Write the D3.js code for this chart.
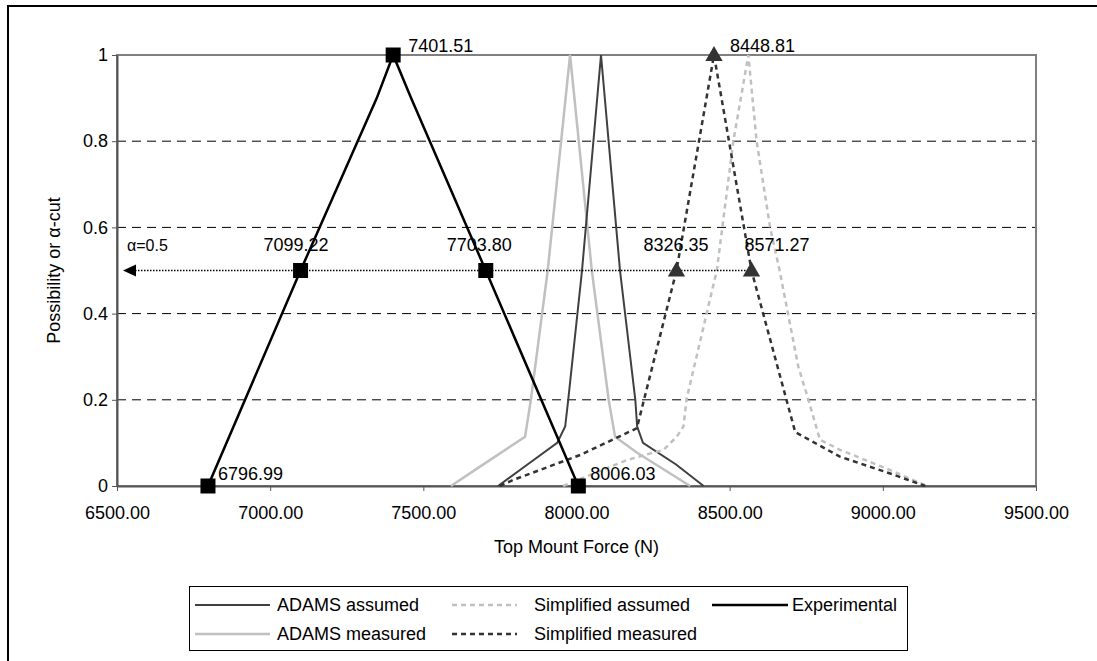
<!DOCTYPE html>
<html>
<head>
<meta charset="utf-8">
<script src="https://cdn.jsdelivr.net/npm/d3@7/dist/d3.min.js"></script>
<style>
  body { margin: 0; background: #fff; }
  svg text { font-family: "Liberation Sans", Arial, sans-serif; fill: #000; }
</style>
</head>
<body>
<svg id="chart" width="1097" height="661"></svg>
<script>
// tick values
var xTicks = [6500, 7000, 7500, 8000, 8500, 9000, 9500];
var yTicks = [0, 0.2, 0.4, 0.6, 0.8, 1];

// ADAMS assumed (force, possibility)
var adamsAssumedX = [7744, 7840, 7937, 7963, 7973, 8018, 8080, 8142, 8192, 8198, 8217, 8325, 8415];
var adamsAssumedA = [0, 0.05, 0.1, 0.138, 0.2, 0.5, 1, 0.5, 0.2, 0.138, 0.1, 0.05, 0];

// ADAMS measured
var adamsMeasuredX = [7590, 7685, 7832, 7851, 7906, 7979, 8050, 8105, 8126, 8198, 8371];
var adamsMeasuredA = [0, 0.045, 0.114, 0.2, 0.5, 1, 0.5, 0.2, 0.114, 0.077, 0];

// Simplified assumed
var simpAssumedX = [7956, 8164, 8284, 8327, 8349, 8360, 8458, 8512, 8561, 8588, 8632, 8663, 8724, 8757, 8795, 8860, 9024, 9143];
var simpAssumedA = [0, 0.06, 0.084, 0.114, 0.138, 0.204, 0.5, 0.8, 1, 0.8, 0.6, 0.5, 0.277, 0.2, 0.107, 0.084, 0.037, 0];

// Simplified measured
var simpMeasuredX = [7750, 7793, 8012, 8197, 8326.35, 8448.81, 8571.27, 8714, 8860, 9024, 9138];
var simpMeasuredA = [0, 0.014, 0.072, 0.134, 0.5, 1, 0.5, 0.125, 0.068, 0.029, 0];
var simpMarkX = [8326.35, 8448.81, 8571.27];
var simpMarkA = [0.5, 1, 0.5];

// Experimental
var expX = [6796.99, 7099.22, 7348, 7401.51, 7460, 7703.80, 8006.03];
var expA = [0, 0.5, 0.9, 1, 0.9, 0.5, 0];
var expMarkX = [6796.99, 7099.22, 7401.51, 7703.80, 8006.03];
var expMarkA = [0, 0.5, 1, 0.5, 0];

var alphaCut = 0.5;

var svg = d3.select("#chart");
var plotLeft = 117, plotRight = 1036, plotTop = 55, plotBottom = 486;

var x = d3.scaleLinear().domain([6500, 9500]).range([plotLeft, plotRight]);
var y = d3.scaleLinear().domain([0, 1]).range([plotBottom, plotTop]);

function pts(xs, as) {
    return xs.map(function (v, i) { return [v, as[i]]; });
}
var line = d3.line().x(function (d) { return x(d[0]); }).y(function (d) { return y(d[1]); });

// outer frame (right / bottom edges are cropped off)
svg.append("rect")
    .attr("x", 8).attr("y", 6).attr("width", 1200).attr("height", 800)
    .attr("fill", "none").attr("stroke", "#000").attr("stroke-width", 2);

// grid lines
svg.append("g").selectAll("line")
    .data(yTicks.filter(function (t) { return t > 0 && t < 1; }))
    .enter().append("line")
    .attr("x1", plotLeft).attr("x2", plotRight)
    .attr("y1", function (d) { return y(d); }).attr("y2", function (d) { return y(d); })
    .attr("stroke", "#000").attr("stroke-width", 1).attr("stroke-dasharray", "9,6");

// plot border
svg.append("rect")
    .attr("x", plotLeft).attr("y", plotTop).attr("width", plotRight - plotLeft).attr("height", plotBottom - plotTop)
    .attr("fill", "none").attr("stroke", "#808080").attr("stroke-width", 2);

// axes
var xAxis = d3.axisBottom(x).tickValues(xTicks).tickFormat(d3.format(".2f")).tickSize(5).tickSizeOuter(0);
var gx = svg.append("g").attr("transform", "translate(0," + plotBottom + ")").call(xAxis);
gx.select(".domain").attr("stroke", "#555").attr("stroke-width", 2);
gx.selectAll(".tick line").attr("stroke", "#555");
gx.selectAll(".tick text").attr("font-size", 18).attr("dy", null).attr("y", 33)
    .attr("font-family", "Liberation Sans, Arial, sans-serif");

var yAxis = d3.axisLeft(y).tickValues(yTicks).tickFormat(d3.format("")).tickSize(5).tickSizeOuter(0);
var gy = svg.append("g").attr("transform", "translate(" + plotLeft + ",0)").call(yAxis);
gy.select(".domain").attr("stroke", "#555").attr("stroke-width", 2);
gy.selectAll(".tick line").attr("stroke", "#555");
gy.selectAll(".tick text").attr("font-size", 18).attr("x", -9)
    .attr("font-family", "Liberation Sans, Arial, sans-serif");

// axis titles
svg.append("text").attr("x", (plotLeft + plotRight) / 2).attr("y", 553)
    .attr("text-anchor", "middle").attr("font-size", 18).text("Top Mount Force (N)");
svg.append("text").attr("transform", "translate(60," + ((plotTop + plotBottom) / 2) + ") rotate(-90)")
    .attr("text-anchor", "middle").attr("font-size", 18).text("Possibility or \u03b1-cut");

// series
var series = [
    { name: "ADAMS measured", data: pts(adamsMeasuredX, adamsMeasuredA), color: "#c0c0c0", width: 2.5, dash: null },
    { name: "ADAMS assumed", data: pts(adamsAssumedX, adamsAssumedA), color: "#404040", width: 2, dash: null },
    { name: "Simplified assumed", data: pts(simpAssumedX, simpAssumedA), color: "#c0c0c0", width: 2.5, dash: "5,4" },
    { name: "Simplified measured", data: pts(simpMeasuredX, simpMeasuredA), color: "#333333", width: 2.5, dash: "5,4" },
    { name: "Experimental", data: pts(expX, expA), color: "#000000", width: 2.5, dash: null }
];

svg.append("g").selectAll("path")
    .data(series)
    .enter().append("path")
    .attr("d", function (d) { return line(d.data); })
    .attr("fill", "none")
    .attr("stroke", function (d) { return d.color; })
    .attr("stroke-width", function (d) { return d.width; })
    .attr("stroke-dasharray", function (d) { return d.dash; });

// alpha-cut arrow
var arrowEnd = d3.max(simpMarkX);
svg.append("line")
    .attr("x1", x(6500) + 18).attr("x2", x(arrowEnd))
    .attr("y1", y(alphaCut)).attr("y2", y(alphaCut))
    .attr("stroke", "#000").attr("stroke-width", 1.5).attr("stroke-dasharray", "1.5,1.5");
svg.append("path")
    .attr("d", "M" + (x(6500) + 6) + "," + y(alphaCut) + "l13,-6l0,12z")
    .attr("fill", "#000");
svg.append("text").attr("x", x(6500) + 10).attr("y", y(alphaCut) - 20)
    .attr("font-size", 16).text("\u03b1=" + alphaCut);

// markers
svg.append("g").selectAll("rect")
    .data(pts(expMarkX, expMarkA))
    .enter().append("rect")
    .attr("x", function (d) { return x(d[0]) - 7.5; })
    .attr("y", function (d) { return y(d[1]) - 7.5; })
    .attr("width", 15).attr("height", 15).attr("fill", "#000");

var tri = d3.symbol().type(d3.symbolTriangle).size(130);
svg.append("g").selectAll("path")
    .data(pts(simpMarkX, simpMarkA))
    .enter().append("path")
    .attr("transform", function (d) { return "translate(" + x(d[0]) + "," + (y(d[1]) + 1) + ")"; })
    .attr("d", tri).attr("fill", "#333");

// value labels
var labelOffsets = [
    { v: expMarkX[0], a: expMarkA[0], dx: 10, dy: -6 },
    { v: expMarkX[1], a: expMarkA[1], dx: -37, dy: -20 },
    { v: expMarkX[2], a: expMarkA[2], dx: 15, dy: -3 },
    { v: expMarkX[3], a: expMarkA[3], dx: -39, dy: -20 },
    { v: expMarkX[4], a: expMarkA[4], dx: 12, dy: -6 },
    { v: simpMarkX[0], a: simpMarkA[0], dx: -33, dy: -20 },
    { v: simpMarkX[1], a: simpMarkA[1], dx: 16, dy: -3 },
    { v: simpMarkX[2], a: simpMarkA[2], dx: -7, dy: -20 }
];
svg.append("g").selectAll("text")
    .data(labelOffsets)
    .enter().append("text")
    .attr("x", function (d) { return x(d.v) + d.dx; })
    .attr("y", function (d) { return y(d.a) + d.dy; })
    .attr("font-size", 18)
    .text(function (d) { return d.v.toFixed(2); });

// legend
var legend = svg.append("g");
legend.append("rect").attr("x", 189.5).attr("y", 586.5).attr("width", 718).attr("height", 64)
    .attr("fill", "#fff").attr("stroke", "#000").attr("stroke-width", 1);
var legendItems = [
    { s: series[1], x1: 195, x2: 270, tx: 277, y: 605 },
    { s: series[2], x1: 452, x2: 517, tx: 534, y: 605 },
    { s: series[4], x1: 712, x2: 788, tx: 792, y: 605 },
    { s: series[0], x1: 195, x2: 270, tx: 277, y: 634 },
    { s: series[3], x1: 452, x2: 517, tx: 534, y: 634 }
];
var li = legend.selectAll("g.item").data(legendItems).enter().append("g").attr("class", "item");
li.append("line")
    .attr("x1", function (d) { return d.x1; }).attr("x2", function (d) { return d.x2; })
    .attr("y1", function (d) { return d.y; }).attr("y2", function (d) { return d.y; })
    .attr("stroke", function (d) { return d.s.color; })
    .attr("stroke-width", function (d) { return d.s.width; })
    .attr("stroke-dasharray", function (d) { return d.s.dash; });
li.append("text")
    .attr("x", function (d) { return d.tx; }).attr("y", function (d) { return d.y; })
    .attr("dy", "0.35em").attr("font-size", 18)
    .text(function (d) { return d.s.name; });
</script>
</body>
</html>
